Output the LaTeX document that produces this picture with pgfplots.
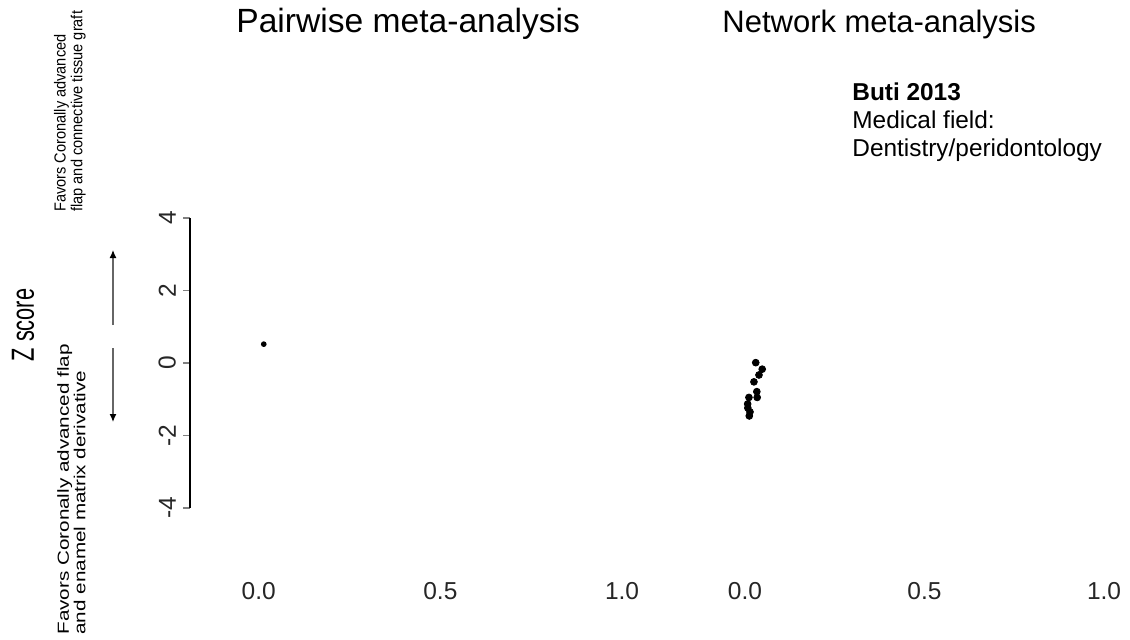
\documentclass[border=0pt]{standalone}
\usepackage{pgfplots}
\pgfplotsset{compat=1.18}
\usepackage{fontspec}
\setmainfont{Liberation Sans}
\usetikzlibrary{arrows.meta}
\begin{document}
\begin{tikzpicture}
\path[use as bounding box] (0,0) rectangle (565pt,319.5pt);
% left panel
\begin{axis}[at={(95pt,65.5pt)}, anchor=south west, scale only axis,
  width=223.3pt, height=145pt,
  xmin=-0.189, xmax=1.04, ymin=-4, ymax=4,
  axis y line=left, axis x line=bottom,
  x axis line style={draw=none}, y axis line style={-, line width=0.6pt},
  xtick={0,0.5,1}, xticklabels={0.0,0.5,1.0},
  ytick={-4,-2,0,2,4}, yticklabels={-4,-2,0,2,4},
  xtick style={draw=none}, ytick style={line width=0.6pt},
  tick align=outside, major tick length=3.5pt,
  ticklabel style={font=\fontsize{12.25}{14}\selectfont, text=black!85},
  yticklabel style={rotate=90, anchor=south},
  xticklabel style={yshift=-30pt},
  clip=false]
\addplot[only marks, mark=*, mark size=1.2pt] coordinates {(0.014,0.52)};
\end{axis}
% right panel
\begin{axis}[at={(365.3pt,65.5pt)}, anchor=south west, scale only axis,
  width=193.9pt, height=145pt,
  xmin=-0.04, xmax=1.04, ymin=-4, ymax=4,
  axis x line=bottom, hide y axis,
  x axis line style={draw=none},
  xtick={0,0.5,1}, xticklabels={0.0,0.5,1.0},
  xtick style={draw=none},
  tick align=outside, major tick length=3.5pt,
  ticklabel style={font=\fontsize{12.25}{14}\selectfont, text=black!85},
  xticklabel style={yshift=-30pt},
  clip=false]
\addplot[only marks, mark=*, mark size=1.7pt] coordinates {
(0.030,0.01) (0.048,-0.17) (0.039,-0.33) (0.025,-0.52) (0.033,-0.79)
(0.034,-0.95) (0.011,-0.95) (0.0075,-1.13) (0.008,-1.24) (0.014,-1.35) (0.012,-1.46)};
\end{axis}
% titles
\node[anchor=west, inner sep=0, font=\fontsize{16.8}{19}\selectfont] at (118pt,307.5pt) {Pairwise meta-analysis};
\node[anchor=west, inner sep=0, font=\fontsize{15.5}{18}\selectfont] at (361pt,307.5pt) {Network meta-analysis};
% y label
\node[rotate=90, xscale=0.68, inner sep=0, font=\fontsize{16}{19}\selectfont] at (11.5pt,157pt) {Z score};
\node[rotate=90, xscale=0.91, anchor=south west, align=left, inner sep=0, font=\fontsize{8}{8.3}\selectfont] at (43pt,213.5pt) {Favors Coronally advanced\\flap and connective tissue graft};
\node[rotate=90, xscale=1.29, anchor=south west, align=left, inner sep=0, font=\fontsize{8}{8.3}\selectfont] at (43pt,2pt) {Favors Coronally advanced flap\\and enamel matrix derivative};
\draw[black!60, line width=0.6pt, -{Latex[length=4pt,width=3.5pt,black]}] (56.5pt,157pt) -- (56.5pt,194.5pt);
\draw[black!60, line width=0.6pt, -{Latex[length=4pt,width=3.5pt,black]}] (56.5pt,145.5pt) -- (56.5pt,108.5pt);
% annotation
\node[anchor=north west, align=left, inner sep=0, font=\fontsize{12.2}{14}\selectfont] at (426pt,278.5pt) {\textbf{Buti 2013}\\Medical field:\\Dentistry/peridontology};
\end{tikzpicture}
\end{document}
